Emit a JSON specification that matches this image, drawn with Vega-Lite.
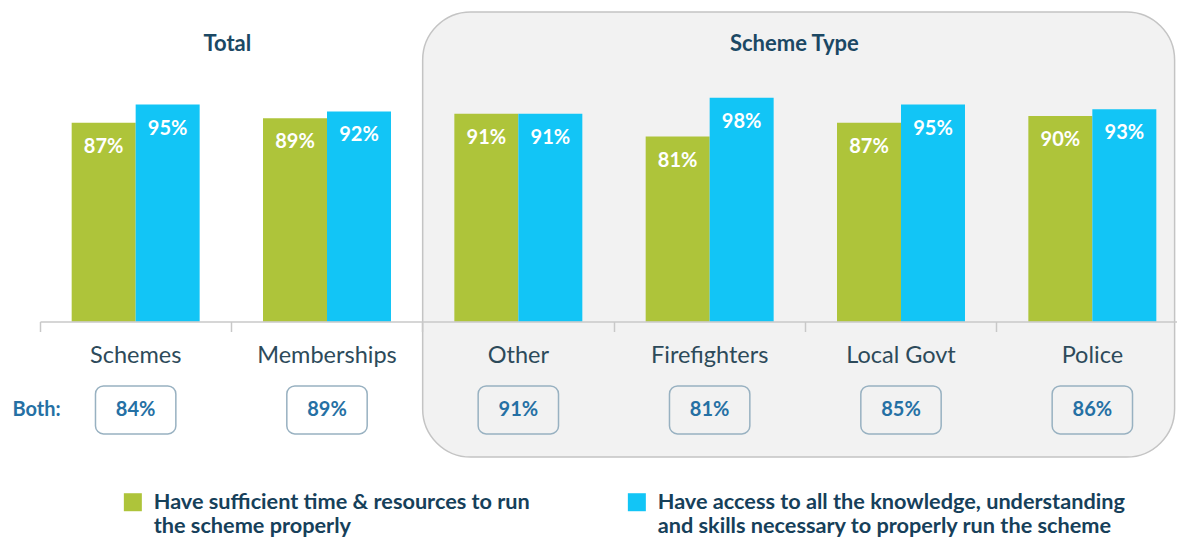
{
  "$schema": "https://vega.github.io/schema/vega-lite/v6.json",
  "width": 1137,
  "height": 445,
  "autosize": {"type": "none"},
  "padding": {"left": 40, "top": 12, "right": 0, "bottom": 81},
  "background": "white",
  "config": {"view": {"stroke": null}, "font": "Lato"},
  "datasets": {
    "bars": [
      {"cat": "Schemes", "series": "Have sufficient time & resources to run the scheme properly", "value": 0.87},
      {"cat": "Schemes", "series": "Have access to all the knowledge, understanding and skills necessary to properly run the scheme", "value": 0.95},
      {"cat": "Memberships", "series": "Have sufficient time & resources to run the scheme properly", "value": 0.89},
      {"cat": "Memberships", "series": "Have access to all the knowledge, understanding and skills necessary to properly run the scheme", "value": 0.92},
      {"cat": "Other", "series": "Have sufficient time & resources to run the scheme properly", "value": 0.91},
      {"cat": "Other", "series": "Have access to all the knowledge, understanding and skills necessary to properly run the scheme", "value": 0.91},
      {"cat": "Firefighters", "series": "Have sufficient time & resources to run the scheme properly", "value": 0.81},
      {"cat": "Firefighters", "series": "Have access to all the knowledge, understanding and skills necessary to properly run the scheme", "value": 0.98},
      {"cat": "Local Govt", "series": "Have sufficient time & resources to run the scheme properly", "value": 0.87},
      {"cat": "Local Govt", "series": "Have access to all the knowledge, understanding and skills necessary to properly run the scheme", "value": 0.95},
      {"cat": "Police", "series": "Have sufficient time & resources to run the scheme properly", "value": 0.90},
      {"cat": "Police", "series": "Have access to all the knowledge, understanding and skills necessary to properly run the scheme", "value": 0.93}
    ],
    "both": [
      {"cat": "Schemes", "both": 0.84},
      {"cat": "Memberships", "both": 0.89},
      {"cat": "Other", "both": 0.91},
      {"cat": "Firefighters", "both": 0.81},
      {"cat": "Local Govt", "both": 0.85},
      {"cat": "Police", "both": 0.86}
    ]
  },
  "layer": [
    {
      "data": {"values": [{"cat": "Other", "cat2": "Police"}]},
      "mark": {"type": "rect", "fill": "#f2f2f2", "stroke": "#c4c4c4", "strokeWidth": 1.5, "cornerRadius": 48},
      "encoding": {
        "x": {"field": "cat", "type": "nominal", "bandPosition": 0,
              "scale": {"domain": ["Schemes", "Memberships", "Other", "Firefighters", "Local Govt", "Police"], "range": [0, 1148], "paddingInner": 0, "paddingOuter": 0}},
        "x2": {"field": "cat2", "bandPosition": 0.93}
      }
    },
    {
      "data": {"name": "bars"},
      "mark": {"type": "bar"},
      "encoding": {
        "x": {"field": "cat", "type": "nominal", "sort": null,
              "scale": {"domain": ["Schemes", "Memberships", "Other", "Firefighters", "Local Govt", "Police"], "range": [0, 1148], "paddingInner": 0, "paddingOuter": 0},
              "axis": {"title": null, "orient": "bottom", "offset": -135.5, "zindex": 1, "labelAngle": 0,
                       "domainColor": "#c8c8c8", "domainWidth": 1.5, "tickColor": "#c8c8c8", "tickWidth": 1.5, "tickSize": 10,
                       "bandPosition": 0, "labelAlign": "center",
                       "labelFont": "Lato", "labelFontSize": 23.5, "labelColor": "#2d4a5a",
                       "labelPadding": 24, "labelLimit": 0}},
        "xOffset": {"field": "series", "type": "nominal", "sort": null,
                    "scale": {"paddingInner": 0, "paddingOuter": 0.495}},
        "y": {"field": "value", "type": "quantitative",
              "scale": {"domain": [-0.592, 1.355], "nice": false, "zero": true},
              "axis": {"title": null, "values": [-0.386], "labelExpr": "'Both:'", "domain": false, "ticks": false, "tickSize": 0,
                       "grid": false, "labelAlign": "center", "labelBaseline": "middle", "labelPadding": 4,
                       "labelFont": "Lato", "labelFontWeight": "bold", "labelFontSize": 20, "labelColor": "#2570a4"}},
        "color": {"field": "series", "type": "nominal", "sort": null,
                  "scale": {"range": ["#aec43a", "#12c5f6"]},
                  "legend": {"title": null, "orient": "none", "legendX": 82, "legendY": 479, "direction": "horizontal",
                             "symbolType": "square", "symbolSize": 324, "symbolStrokeWidth": 0, "symbolOpacity": 1,
                             "labelFont": "Lato", "labelFontWeight": "bold", "labelFontSize": 21.7, "labelColor": "#16405a",
                             "labelLimit": 0, "labelOffset": 10, "labelBaseline": "middle", "columnPadding": 96,
                             "labelExpr": "indexof(datum.label, 'sufficient') >= 0 ? ['Have sufficient time & resources to run', 'the scheme properly'] : ['Have access to all the knowledge, understanding', 'and skills necessary to properly run the scheme']"}}
      }
    },
    {
      "data": {"name": "bars"},
      "mark": {"type": "text", "baseline": "middle", "dy": 24, "fill": "white", "font": "Lato", "fontWeight": "bold", "fontSize": 20},
      "encoding": {
        "x": {"field": "cat", "type": "nominal", "sort": null},
        "xOffset": {"field": "series", "type": "nominal", "sort": null, "scale": {"paddingInner": 0, "paddingOuter": 0.495}},
        "y": {"field": "value", "type": "quantitative"},
        "text": {"field": "value", "type": "quantitative", "format": ".0%"}
      }
    },
    {
      "data": {"name": "both"},
      "mark": {"type": "bar", "width": {"band": 0.42}, "fill": "transparent", "stroke": "#98b1c1", "strokeWidth": 1.5, "cornerRadius": 8},
      "encoding": {
        "x": {"field": "cat", "type": "nominal", "sort": null},
        "y": {"datum": -0.281},
        "y2": {"datum": -0.491}
      }
    },
    {
      "data": {"name": "both"},
      "mark": {"type": "text", "baseline": "middle", "font": "Lato", "fontWeight": "bold", "fontSize": 20, "fill": "#2570a4"},
      "encoding": {
        "x": {"field": "cat", "type": "nominal", "sort": null},
        "y": {"datum": -0.386},
        "text": {"field": "both", "type": "quantitative", "format": ".0%"}
      }
    },
    {
      "data": {"values": [{"cat": "Schemes", "title": "Total"}]},
      "mark": {"type": "text", "baseline": "middle", "dx": -4, "font": "Lato", "fontWeight": "bold", "fontSize": 22, "fill": "#1b4864"},
      "encoding": {
        "x": {"field": "cat", "type": "nominal", "bandPosition": 1},
        "y": {"datum": 1.215},
        "text": {"field": "title"}
      }
    },
    {
      "data": {"values": [{"cat": "Firefighters", "title": "Scheme Type"}]},
      "mark": {"type": "text", "baseline": "middle", "dx": -11, "font": "Lato", "fontWeight": "bold", "fontSize": 22, "fill": "#1b4864"},
      "encoding": {
        "x": {"field": "cat", "type": "nominal", "bandPosition": 1},
        "y": {"datum": 1.215},
        "text": {"field": "title"}
      }
    }
  ]
}
